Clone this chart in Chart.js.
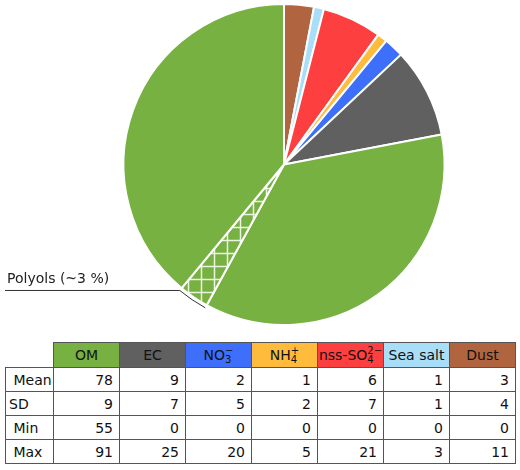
<!DOCTYPE html>
<html>
<head>
<meta charset="utf-8">
<script src="https://cdn.jsdelivr.net/npm/chart.js@4.4.1/dist/chart.umd.min.js"></script>
<style>
  body { margin: 0; background: #fff; font-family: "DejaVu Sans", sans-serif; }
  #wrap { position: relative; width: 520px; height: 470px; }
  #pie { position: absolute; left: 0; top: 0; }
  table {
    position: absolute; left: 5px; top: 342px;
    border-collapse: collapse; font-size: 14px; color: #111;
  }
  td, th { border: 1px solid #555; padding: 0; height: 23px; }
  th { font-weight: normal; width: 65px; max-width: 65px; text-align: center; height: 24px; white-space: nowrap; overflow: hidden; }
  th.blank { border: none; width: 47px; }
  td { text-align: right; padding-right: 6px; }
  td.lab { text-align: left; padding-left: 3px; padding-right: 0; width: 44px; }
  .ion { display: inline-block; vertical-align: -3px; line-height: 9px; font-size: 10px; text-align: left; }
  .ion span { display: block; }
</style>
</head>
<body>
<div id="wrap">
  <canvas id="pie" width="520" height="336"></canvas>
  <table id="tbl"></table>
</div>
<script>
// Species (table columns)
const species = ["OM", "EC", "NO3", "NH4", "SO4", "Sea salt", "Dust"];
const headerHtml = [
  "OM", "EC",
  'NO<span class="ion"><span>&minus;</span><span>3</span></span>',
  'NH<span class="ion"><span>+</span><span>4</span></span>',
  'nss-SO<span class="ion"><span>2&minus;</span><span>4</span></span>',
  "Sea salt", "Dust"
];
const colors = ["#77b142", "#606060", "#3d6ffa", "#ffbb3b", "#fe3f3f", "#a8def8", "#b06540"];

// Statistics (% of PM)
const meanVals = [78, 9, 2, 1, 6, 1, 3];
const sdVals = [9, 7, 5, 2, 7, 1, 4];
const minVals = [55, 0, 0, 0, 0, 0, 0];
const maxVals = [91, 25, 20, 5, 21, 3, 11];
const rowLabels = [" Mean", "SD", " Min", " Max"];

// Polyols share inside OM, and where it sits inside the OM wedge
const polyolShare = 3;
const omBeforePolyols = 36;

// Pie order clockwise from 12 o'clock: Dust, Sea salt, SO4, NH4, NO3, EC, OM(a), Polyols, OM(b)
const pieOrder = [6, 5, 4, 3, 2, 1];
const pieLabels = pieOrder.map(i => species[i]).concat(["OM", "Polyols", "OM"]);
const pieValues = pieOrder.map(i => meanVals[i])
  .concat([omBeforePolyols, polyolShare, meanVals[0] - omBeforePolyols - polyolShare]);

// Hatch pattern for polyols
function makeHatch() {
  const c = document.createElement("canvas");
  c.width = 13; c.height = 13;
  const g = c.getContext("2d");
  g.fillStyle = colors[0];
  g.fillRect(0, 0, 13, 13);
  g.strokeStyle = "rgba(255,255,255,0.85)";
  g.lineWidth = 1.5;
  g.beginPath();
  g.moveTo(0, 6.5); g.lineTo(13, 6.5);
  g.moveTo(6.5, 0); g.lineTo(6.5, 13);
  g.stroke();
  return document.getElementById("pie").getContext("2d").createPattern(c, "repeat");
}

const pieColors = pieOrder.map(i => colors[i]).concat([colors[0], makeHatch(), colors[0]]);

// Label + leader line for polyols
const polyolLabel = {
  id: "polyolLabel",
  afterDatasetsDraw(chart) {
    const arc = chart.getDatasetMeta(0).data[7];
    if (!arc) return;
    const ctx = chart.ctx;
    const r = arc.outerRadius + 3;
    const ex = arc.x + r * Math.cos(arc.endAngle);
    const ey = arc.y + r * Math.sin(arc.endAngle);
    ctx.save();
    ctx.strokeStyle = "#333";
    ctx.lineWidth = 1;
    ctx.beginPath();
    ctx.moveTo(5, ey);
    ctx.lineTo(ex, ey);
    ctx.arc(arc.x, arc.y, r, arc.endAngle, arc.startAngle, true);
    ctx.stroke();
    ctx.fillStyle = "#222";
    ctx.font = "14px 'DejaVu Sans'";
    ctx.textBaseline = "alphabetic";
    ctx.fillText("Polyols (~3 %)", 7, ey - 7);
    ctx.restore();
  }
};

new Chart(document.getElementById("pie"), {
  type: "pie",
  data: {
    labels: pieLabels,
    datasets: [{
      data: pieValues,
      backgroundColor: pieColors,
      borderColor: "#fff",
      borderWidth: 2
    }]
  },
  options: {
    responsive: false,
    animation: false,
    events: [],
    layout: { padding: { left: 122, right: 74, top: 3, bottom: 10 } },
    plugins: { legend: { display: false }, tooltip: { enabled: false } }
  },
  plugins: [polyolLabel]
});

// Table
const tbl = document.getElementById("tbl");
let html = '<tr><th class="blank"></th>';
headerHtml.forEach((h, i) => {
  html += '<th style="background:' + colors[i] + '">' + h + "</th>";
});
html += "</tr>";
[meanVals, sdVals, minVals, maxVals].forEach((row, r) => {
  html += '<tr><td class="lab">' + rowLabels[r].replace(" ", "&nbsp;") + "</td>";
  row.forEach(v => { html += "<td>" + v + "</td>"; });
  html += "</tr>";
});
tbl.innerHTML = html;
</script>
</body>
</html>
